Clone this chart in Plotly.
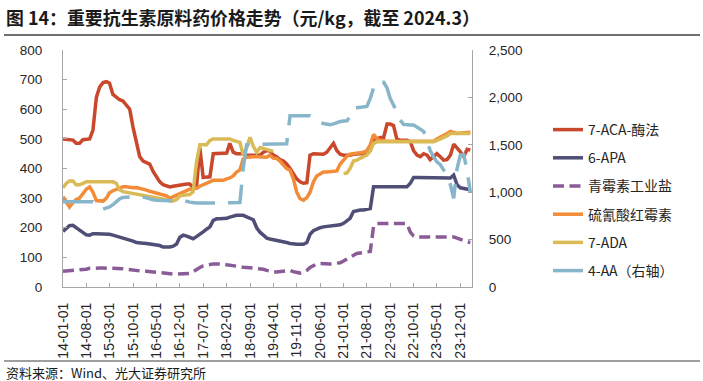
import pandas as pd
import plotly.graph_objects as go

# ---------------- data (monthly, 2014-01 .. 2024-03) ----------------
MONTHS = [d.strftime("%Y-%m-%d") for d in pd.date_range("2014-01-01", "2024-03-01", freq="MS")]

ACA_7 = [
    500, 498, 496, 496, 485, 485, 497, 500, 500, 530, 640, 675,
    690, 693, 688, 650, 640, 632, 628, 612, 600, 540, 485, 440,
    425, 420, 415, 390, 370, 355, 345, 340, 338, 340, 342, 345,
    348, 348, 348, 335, 335, 470, 370, 370, 372, 450, 450, 450,
    450, 452, 485, 455, 450, 450, 450, 445, 445, 445, 445, 445,
    455, 460, 460, 445, 440, 430, 425, 415, 400, 380, 365, 355,
    350, 352, 445, 450, 450, 450, 448, 455, 470, 485, 460, 448,
    445, 445, 445, 448, 450, 450, 450, 452, 460, 500, 500, 505,
    505, 550, 550, 545, 500, 495, 495, 495, 490, 460, 445, 440,
    450, 445, 430, 440, 450, 440, 428, 430, 445, 482, 470, 456,
    440, 465, 462,
]

APA_6 = [
    188, 200, 207, 208, 200, 192, 185, 176, 175, 180, 180, 180,
    180, 180, 178, 175, 172, 168, 163, 160, 158, 155, 150, 148,
    148, 147, 145, 145, 143, 140, 135, 135, 135, 138, 145, 168,
    175, 172, 168, 163, 170, 180, 186, 195, 203, 225, 230, 230,
    230, 232, 236, 240, 242, 242, 242, 237, 232, 227, 200, 185,
    175, 165, 162, 160, 158, 155, 152, 150, 147, 145, 144, 144,
    144, 150, 178, 190, 196, 200, 203, 205, 205, 207, 208, 210,
    215, 225, 232, 255, 258, 260, 260, 262, 265, 338, 338, 338,
    338, 338, 338, 338, 338, 338, 338, 338, 350, 370, 370, 370,
    370, 370, 370, 370, 370, 370, 370, 370, 368, 378, 345, 335,
    332, 330, 328,
]

PEN_SALT = [
    53, 54, 55, 56, 56, 57, 58, 60, 63, 64, 64, 64,
    64, 64, 64, 64, 64, 64, 62, 60, 58, 56, 54, 53,
    53, 53, 52, 50, 48, 46, 45, 44, 44, 44, 44, 44,
    44, 44, 46, 52, 60, 66, 71, 74, 77, 78, 78, 78,
    77, 75, 73, 72, 71, 69, 67, 66, 65, 65, 64, 62,
    60, 56, 53, 51, 51, 53, 55, 56, 56, 52, 48, 47,
    50, 56, 66, 73, 78, 79, 78, 77, 78, 79, 80, 82,
    88, 95, 100, 108, 113, 115, 116, 117, 120, 205, 214, 214,
    214, 214, 214, 214, 214, 214, 214, 214, 185, 172, 169, 169,
    169, 169, 169, 169, 169, 169, 169, 169, 169, 169, 165, 160,
    155, 152, 150,
]

ERY_THIO = [
    305, 285, 270, 285, 295, 300, 315, 330, 338, 320, 292, 290,
    290, 300, 318, 325, 330, 336, 338, 338, 336, 335, 336, 334,
    330, 327, 323, 320, 316, 313, 312, 308, 300, 305, 312, 316,
    320, 325, 330, 332, 333, 340, 345, 352, 358, 360, 360, 360,
    360, 365, 368, 375, 388, 395, 432, 438, 440, 440, 440, 440,
    440, 438, 445, 435, 434, 425, 412, 400, 394, 365, 320, 298,
    293, 302, 320, 355, 375, 383, 388, 388, 389, 389, 392, 415,
    430, 442, 448, 450, 450, 452, 455, 460, 480, 515, 500, 495,
    492, 492, 492, 492, 492, 492, 492, 492, 492, 492, 492, 492,
    492, 492, 492, 492, 500, 505, 512, 518, 525, 522, 518, 520,
    520, 522, 522,
]

ADA_7 = [
    335, 350, 358, 358, 345, 345, 350, 355, 355, 355, 355, 355,
    355, 355, 355, 355, 350, 328, 322, 320, 318, 316, 313, 310,
    308, 306, 305, 304, 302, 300, 299, 295, 290, 290, 295, 308,
    310, 310, 312, 322, 420, 480, 480, 480, 495, 500, 500, 500,
    500, 500, 500, 495, 490, 488, 445, 470, 505, 475, 455, 470,
    468, 465, 462, 458, None, None, None, None, None, None, None, None,
    None, None, None, None, None, None, None, None, None, None, None, None,
    383, 385, 400, 425, 428, 435, 440, 445, 460, 485, 490, 490,
    490, 490, 490, 490, 490, 490, 490, 490, 490, 490, 490, 490,
    490, 490, 490, 490, 495, 500, 505, 510, 518, 518, 518, 518,
    518, 518, 518,
]

AA_4 = [
    900, 900, 900, 900, 902, 905, 908, 908, 908, 900, 860, 830,
    822, 832, 845, 868, 895, 930, 945, 950, 951, 951, 951, 951,
    948, 940, 926, 920, 916, 915, 915, 915, 915, 915, 915, 915,
    915, 905, 895, 888, 885, 885, 885, 885, 885, 885, 885, 885,
    885, 885, 885, 885, 885, 890, 1250, 1500, 1505, 1505, 1505, 1505,
    1507, 1507, 1507, 1507, 1507, 1507, 1507, 1510, 1806, 1806, 1806, 1806,
    1806, 1806, 1806, 1790, 1760, 1735, 1725, 1720, 1712, 1720, 1735, 1745,
    1750, 1752, 1800, 1884, 1890, 1895, 1901, 1905, 1990, 2100, 2165, 2165,
    2160, 2100, 1990, 1920, 1850, 1760, 1715, 1708, 1708, 1708, 1690, 1665,
    1640, 1520, 1440, 1373, 1320, 1290, 1240, 1180, 1080, 935, 1250, 1391,
    1395, 1220, 1000,
]

TICK_LABELS = ["14-01-01", "14-08-01", "15-03-01", "15-10-01", "16-05-01", "16-12-01",
               "17-07-01", "18-02-01", "18-09-01", "19-04-01", "19-11-01", "20-06-01",
               "21-01-01", "21-08-01", "22-03-01", "22-10-01", "23-05-01", "23-12-01"]
TICK_VALS = ["20" + t for t in TICK_LABELS]

LEFT_TICKS = [0, 100, 200, 300, 400, 500, 600, 700, 800]
RIGHT_TICKS = [0, 500, 1000, 1500, 2000, 2500]

SERIES = [
    ("7-ACA-酶法", ACA_7, "#C9472B", "solid", "y"),
    ("6-APA", APA_6, "#4F4E76", "solid", "y"),
    ("青霉素工业盐", PEN_SALT, "#8B5B97", "11px,5.5px", "y"),
    ("硫氰酸红霉素", ERY_THIO, "#F28C38", "solid", "y"),
    ("7-ADA", ADA_7, "#D9BA55", "solid", "y"),
    ("4-AA（右轴）", AA_4, "#87B6CB", "30px,13px", "y2"),
]

# ---------------- layout geometry ----------------
W, H = 703, 381
ML, MR, MT, MB = 63, 231, 50, 94
PW, PH = W - ML - MR, H - MT - MB


def px(x):
    return (x - ML) / PW


def py(y):
    return (H - MB - y) / PH


LATIN = "Liberation Sans, Arial, Noto Sans CJK SC, sans-serif"
CJK = "Noto Sans CJK SC, Liberation Sans, sans-serif"
AXIS_COLOR = "#A6A6A6"

fig = go.Figure()
for i, (name, vals, color, dash, yax) in enumerate(SERIES):
    fig.add_trace(go.Scatter(
        x=MONTHS, y=vals, name=name, mode="lines", yaxis=yax,
        line=dict(color=color, width=3.5, dash=dash),
        connectgaps=False, legendgroup=f"g{i}", legendrank=i + 1,
        hoverinfo="skip",
    ))

fig.update_layout(
    width=W, height=H,
    margin=dict(l=ML, r=MR, t=MT, b=MB, pad=0),
    paper_bgcolor="white", plot_bgcolor="white",
    showlegend=True,
    legend=dict(
        x=px(548), y=py(114), xanchor="left", yanchor="top",
        font=dict(family=CJK, size=14, color="#262626"),
        tracegroupgap=7, bgcolor="rgba(0,0,0,0)", itemwidth=30,
    ),
    xaxis=dict(
        type="date", range=["2014-01-01", "2024-03-16"],
        tickmode="array", tickvals=TICK_VALS, ticktext=TICK_LABELS,
        tickangle=-90, ticks="inside", ticklen=4, tickcolor=AXIS_COLOR,
        showline=True, linecolor=AXIS_COLOR, linewidth=1, showgrid=False, zeroline=False,
        tickfont=dict(family=LATIN, size=14, color="#262626"),
        ticklabelstandoff=9, automargin=False,
    ),
    yaxis=dict(
        range=[0, 800], tickmode="array", tickvals=LEFT_TICKS,
        ticks="inside", ticklen=4, tickcolor=AXIS_COLOR,
        showline=True, linecolor=AXIS_COLOR, linewidth=1, showgrid=False, zeroline=False,
        tickfont=dict(family=LATIN, size=13.5, color="#262626"),
        ticklabelstandoff=17, automargin=False,
    ),
    yaxis2=dict(
        range=[0, 2500], tickmode="array", tickvals=RIGHT_TICKS, tickformat=",",
        overlaying="y", side="right",
        ticks="inside", ticklen=4, tickcolor=AXIS_COLOR,
        showline=True, linecolor=AXIS_COLOR, linewidth=1, showgrid=False, zeroline=False,
        tickfont=dict(family=LATIN, size=13.5, color="#262626"),
        ticklabelstandoff=13, automargin=False,
    ),
)

# title, rules and source note
fig.add_annotation(
    text="<b>图 14：重要抗生素原料药价格走势（元/kg，截至 2024.3）</b>",
    xref="paper", yref="paper", x=px(4), y=py(17), xanchor="left", yanchor="middle",
    showarrow=False, font=dict(family=CJK, size=17.9, color="#1A1A1A"),
)
fig.add_shape(type="line", xref="paper", yref="paper",
              x0=px(4), x1=px(700), y0=py(35), y1=py(35),
              line=dict(color="#404040", width=1.5))
fig.add_shape(type="line", xref="paper", yref="paper",
              x0=px(4), x1=px(700), y0=py(361), y1=py(361),
              line=dict(color="#404040", width=1.2))
fig.add_annotation(
    text="资料来源：Wind、光大证券研究所",
    xref="paper", yref="paper", x=px(4), y=py(372), xanchor="left", yanchor="middle",
    showarrow=False, font=dict(family=CJK, size=13, color="#1A1A1A"),
)

fig.write_html("out.html", config={"displayModeBar": False},
               post_script="document.body.style.margin='0';")
